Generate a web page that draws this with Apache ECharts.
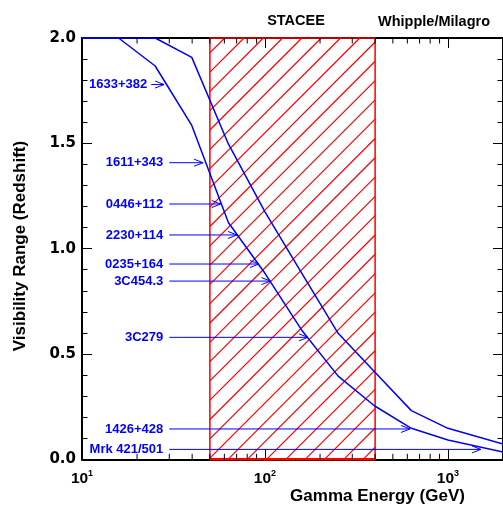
<!DOCTYPE html>
<html><head><meta charset="utf-8">
<script src="https://cdn.jsdelivr.net/npm/echarts@6/dist/echarts.min.js"></script>
<style>html,body{margin:0;padding:0;background:#fff}#c{width:503px;height:506px}</style>
</head><body><div id="c"></div>
<script>
// ---- data ----
const energy     = [10, 15.85, 25.12, 39.81, 63.10, 100, 158.5, 251.2, 398.1, 631.0, 1000, 2000];
const rangeLow   = [2.0, 2.0, 1.867, 1.585, 1.124, 0.883, 0.614, 0.395, 0.253, 0.147, 0.092, 0.034];
const rangeHigh  = [2.0, 2.0, 2.0, 1.908, 1.497, 1.175, 0.885, 0.598, 0.414, 0.231, 0.147, 0.073];
const staceeBand = [50, 400];
const sourceNames = ['1633+382','1611+343','0446+112','2230+114','0235+164','3C454.3','3C279','1426+428','Mrk 421/501'];
const sourceZ     = [1.779, 1.408, 1.212, 1.065, 0.927, 0.846, 0.579, 0.144, 0.047];
const arrowFrom   = [23.9, 30, 30, 30, 30, 30, 30, 30, 30];
const arrowTo     = [28.1, 45.9, 57.3, 70.3, 92.7, 107.2, 171.8, 620, 1514];
const xMajorTicks = [10, 100, 1000];
const xMajorSup   = ['1', '2', '3'];
const xMinorTicks = [20,30,40,50,60,70,80,90,200,300,400,500,600,700,800,900];
const topLabels   = ['STACEE', 'Whipple/Milagro'];
const xTitle = 'Gamma Energy (GeV)';
const yTitle = 'Visibility Range (Redshift)';

const BLUE = '#0000ff', RED = '#ff0000';
const chart = echarts.init(document.getElementById('c'), null, {renderer: 'canvas'});

function supLabel(v) {
  const i = xMajorTicks.findIndex(t => Math.abs(t - v) / t < 1e-6);
  return i < 0 ? '' : '{b|10}{s|' + xMajorSup[i] + '}';
}
const axisBlack = {color: '#000', width: 2};
const xAxisBase = {
  type: 'log', logBase: 10, min: 10, max: 2000,
  axisLine: {show: true, onZero: false, lineStyle: axisBlack},
  axisTick: {show: true, inside: true, length: 10, lineStyle: {color: '#000', width: 1}},
  splitLine: {show: false}, minorTick: {show: false}
};
const yAxisBase = {
  type: 'value', min: 0, max: 2, interval: 0.5,
  axisLine: {show: true, onZero: false, lineStyle: axisBlack},
  axisTick: {show: true, inside: true, length: 10, lineStyle: {color: '#000', width: 1}},
  minorTick: {show: true, splitNumber: 5, length: 5.5, lineStyle: {color: '#000', width: 1}},
  splitLine: {show: false}, minorSplitLine: {show: false}
};

const option = {
  backgroundColor: '#fff',
  animation: false,
  grid: {left: 82, top: 38, right: -2, bottom: 46.7, containLabel: false},
  xAxis: [
    Object.assign({}, xAxisBase, {position: 'bottom',
      axisLabel: {show: true, margin: 10, formatter: supLabel, showMaxLabel: false,
        rich: {
          b: {fontFamily: 'Liberation Sans', fontWeight: 'bold', fontSize: 15.5, lineHeight: 18, color: '#000'},
          s: {fontFamily: 'Liberation Sans', fontWeight: 'bold', fontSize: 9, lineHeight: 9, color: '#000', verticalAlign: 'top'}
        }}}),
    Object.assign({}, xAxisBase, {position: 'top', axisLabel: {show: false}})
  ],
  yAxis: [
    Object.assign({}, yAxisBase, {position: 'left',
      axisLabel: {show: true, margin: 6, formatter: v => v.toFixed(1), color: '#000',
        fontFamily: 'DejaVu Sans', fontWeight: 'bold', fontSize: 15}}),
    Object.assign({}, yAxisBase, {position: 'right', axisLabel: {show: false}})
  ],
  graphic: [
    {type: 'text', x: 296, y: 21, style: {text: topLabels[0], fill: '#000', font: 'bold 14.5px "Liberation Sans"', align: 'center', verticalAlign: 'middle'}},
    {type: 'text', x: 434, y: 21.5, style: {text: topLabels[1], fill: '#000', font: 'bold 14.5px "Liberation Sans"', align: 'center', verticalAlign: 'middle'}},
    {type: 'text', x: 377.5, y: 496.5, style: {text: xTitle, fill: '#000', font: 'bold 17px "Liberation Sans"', align: 'center', verticalAlign: 'middle'}},
    {type: 'text', x: 20, y: 246, rotation: Math.PI / 2, style: {text: yTitle, fill: '#000', font: 'bold 17px "Liberation Sans"', align: 'center', verticalAlign: 'middle'}}
  ],
  series: [
    { // STACEE hatched band
      type: 'custom', clip: false, silent: true, z: 1,
      data: [[staceeBand[0], staceeBand[1], 0, 2]],
      encode: {x: [0, 1], y: [2, 3]},
      renderItem: function (params, api) {
        const a = api.coord([api.value(0), api.value(3)]);
        const b = api.coord([api.value(1), api.value(2)]);
        const x0 = a[0], y0 = a[1], x1 = b[0], y1 = b[1];
        const step = 19.3;
        let d = '';
        let c = x0 + y0 + 14.8;
        while (c - step > x0 + y0) c -= step;
        for (; c < x1 + y1; c += step) {
          const xa = Math.max(x0, c - y1), xb = Math.min(x1, c - y0);
          if (xb - xa > 0.5) {
            d += 'M' + xa.toFixed(2) + ' ' + (c - xa).toFixed(2) + 'L' + xb.toFixed(2) + ' ' + (c - xb).toFixed(2);
          }
        }
        return {type: 'group', children: [
          {type: 'path', shape: {pathData: d}, style: {stroke: RED, fill: 'none', lineWidth: 1.2}},
          {type: 'rect', shape: {x: x0, y: y0, width: x1 - x0, height: y1 - y0},
            style: {stroke: RED, fill: 'none', lineWidth: 1.5}},
          {type: 'line', shape: {x1: x0, y1: y1, x2: x1, y2: y1},
            style: {stroke: RED, fill: 'none', lineWidth: 2.5}}
        ]};
      }
    },
    { // minor log ticks, bottom and top
      type: 'custom', clip: false, silent: true, z: 1,
      data: xMinorTicks.map(v => [v, 0]),
      encode: {x: 0, y: 1},
      renderItem: function (params, api) {
        const p = api.coord([api.value(0), 0]);
        const q = api.coord([api.value(0), 2]);
        return {type: 'group', children: [
          {type: 'line', shape: {x1: p[0], y1: p[1], x2: p[0], y2: p[1] - 5.5}, style: {stroke: '#000', fill: 'none', lineWidth: 1}},
          {type: 'line', shape: {x1: q[0], y1: q[1], x2: q[0], y2: q[1] + 5.5}, style: {stroke: '#000', fill: 'none', lineWidth: 1}}
        ]};
      }
    },
    {type: 'line', data: energy.map((e, i) => [e, rangeLow[i]]), symbol: 'none', z: 3,
     lineStyle: {color: BLUE, width: 1.5}, clip: true},
    {type: 'line', data: energy.map((e, i) => [e, rangeHigh[i]]), symbol: 'none', z: 3,
     lineStyle: {color: BLUE, width: 1.5}, clip: true},
    { // source arrows and labels
      type: 'custom', clip: false, silent: true, z: 4,
      data: sourceNames.map((n, i) => [arrowFrom[i], arrowTo[i], sourceZ[i]]),
      encode: {x: [0, 1], y: 2},
      renderItem: function (params, api) {
        const i = params.dataIndex;
        const p0 = api.coord([api.value(0), api.value(2)]);
        const p1 = api.coord([api.value(1), api.value(2)]);
        const gap = i === 0 ? 4 : 6;
        return {type: 'group', children: [
          {type: 'line', shape: {x1: p0[0], y1: p0[1], x2: p1[0], y2: p1[1]}, style: {stroke: BLUE, fill: 'none', lineWidth: 1}},
          {type: 'polyline', shape: {points: [[p1[0] - 9, p1[1] - 3.5], [p1[0], p1[1]], [p1[0] - 9, p1[1] + 3.5]]},
            style: {stroke: BLUE, lineWidth: 1, fill: 'none'}},
          {type: 'text', x: p0[0] - gap, y: p0[1], style: {text: sourceNames[i], fill: BLUE,
            font: 'bold 13px "Liberation Sans"', align: 'right', verticalAlign: 'middle'}}
        ]};
      }
    }
  ]
};
chart.setOption(option);
</script></body></html>
